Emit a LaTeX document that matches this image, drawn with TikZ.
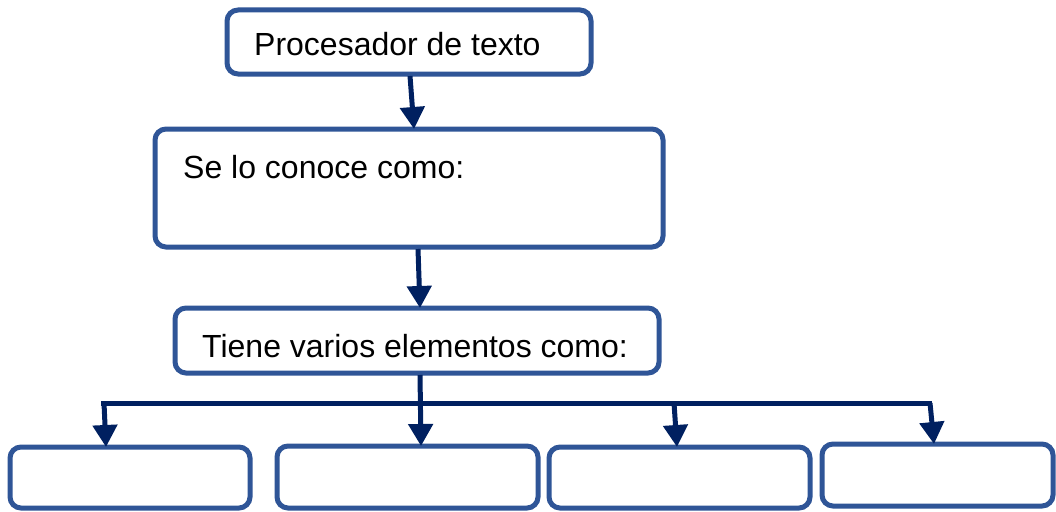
\documentclass[tikz,border=0pt]{standalone}
\usepackage{fontspec}
\setmainfont{Liberation Sans}
\usetikzlibrary{arrows.meta}
\definecolor{boxblue}{HTML}{2F5597}
\definecolor{navy}{HTML}{002060}
\begin{document}
\begin{tikzpicture}[x=1pt,y=-1pt,
  box/.style={draw=boxblue,line width=5pt,rounded corners=11pt,fill=white},
  lbl/.style={font=\fontsize{32}{36}\selectfont,inner sep=0pt,text=black},
  conn/.style={draw=navy,line width=5pt},
  arr/.style={conn,-{Triangle[length=22pt,width=24pt]}}]
\useasboundingbox (0,0) rectangle (1056,511);
% boxes
\draw[box] (227,10) rectangle (591,74);
\draw[box] (155,129) rectangle (663,247);
\draw[box] (175,308) rectangle (659,373);
\draw[box] (10,447) rectangle (250,508);
\draw[box] (277,446) rectangle (538,508);
\draw[box] (549,447) rectangle (810,508);
\draw[box] (822,444) rectangle (1053,506);
% texts
\node[lbl,anchor=west] (t1) at (254,44) {Procesador de texto};
\node[lbl,anchor=west] (t2) at (183,167) {Se lo conoce como:};
\node[lbl,anchor=west] (t3) at (202,346) {Tiene varios elementos como:};
% connectors
\coordinate (a1s) at (410,76);
\coordinate (a1e) at (414,129);
\coordinate (a2s) at (418,249);
\coordinate (a2e) at (420,308);
\coordinate (cs) at (420,375);
\coordinate (hl) at (101,403);
\coordinate (hr) at (932,403);
\coordinate (b4t) at (106,447);
\coordinate (b5t) at (421,446);
\coordinate (b6t) at (677,447);
\coordinate (b7t) at (934,444);
\coordinate (d1) at (104,403);
\coordinate (d3) at (674,403);
\coordinate (d4) at (930,403);
\draw[arr] (a1s) -- (a1e);
\draw[arr] (a2s) -- (a2e);
\draw[conn] (hl) -- (hr);
\draw[arr] (cs) -- (b5t);
\draw[arr] (d1) -- (b4t);
\draw[arr] (d3) -- (b6t);
\draw[arr] (d4) -- (b7t);
\end{tikzpicture}
\end{document}
